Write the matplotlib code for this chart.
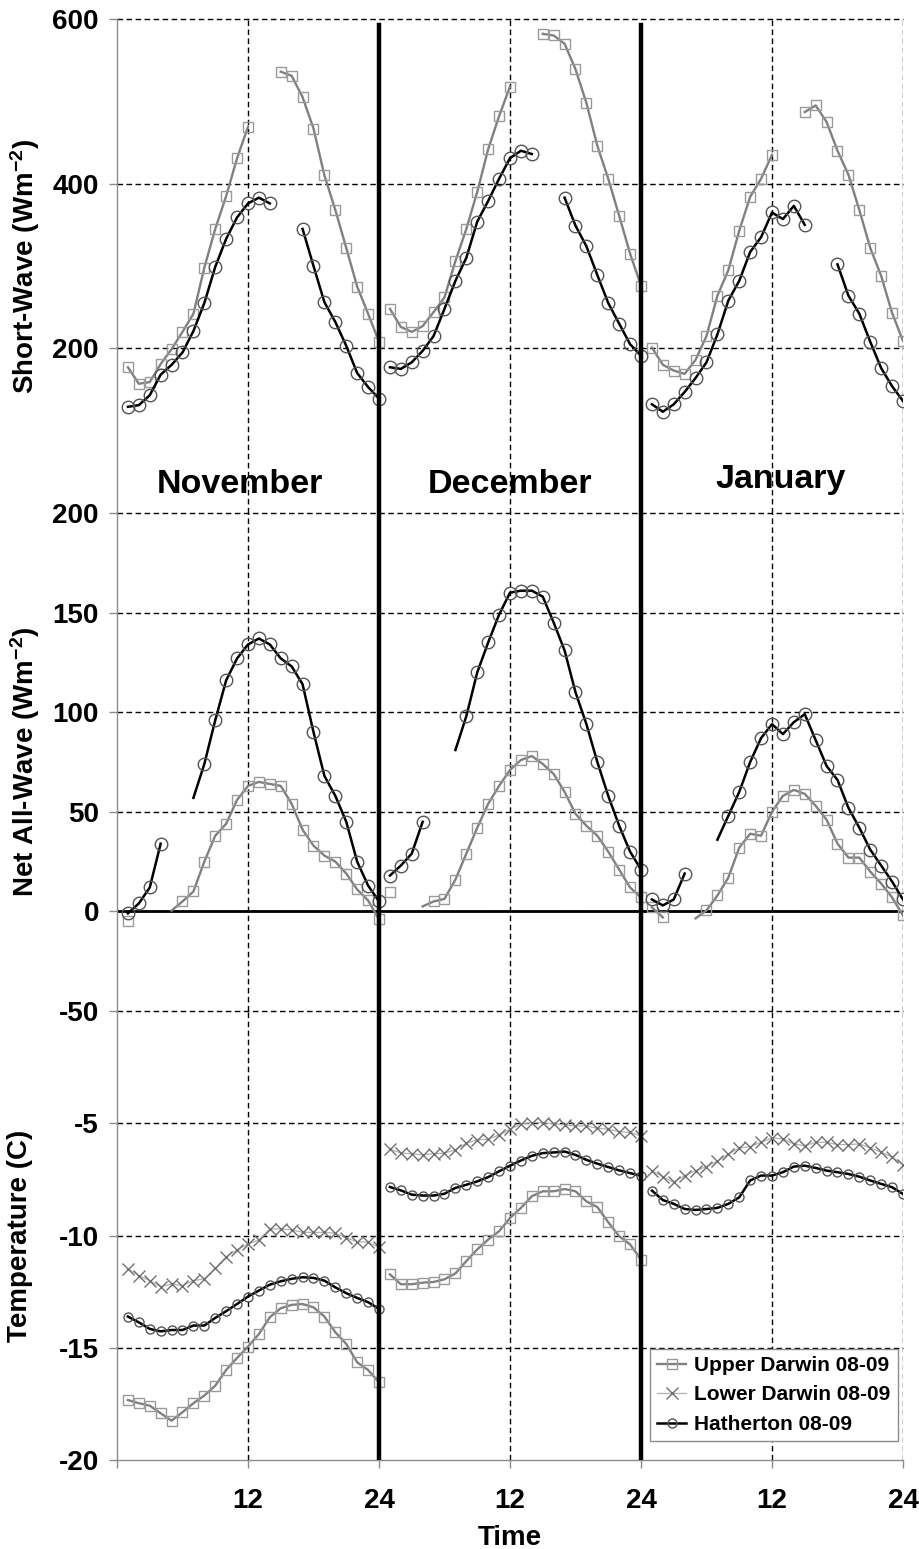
#!/usr/bin/env python3
"""Diurnal short-wave, net all-wave and temperature at three sites, Nov-Jan 08-09."""

import matplotlib

matplotlib.use("Agg")

import matplotlib.pyplot as plt
import numpy as np

nan = np.nan

MONTHS = ["November", "December", "January"]
HOURS = np.arange(1, 25)
SITES = ["Upper Darwin 08-09", "Lower Darwin 08-09", "Hatherton 08-09"]

# Short-wave (W m-2), one list per month
SW_UPPER = [
    [177, 157, 159, 181, 199, 220, 242, 298, 345, 385, 431, 469,
     nan, nan, 536, 531, 505, 467, 410, 368, 322, 275, 242, 208],
    [248, 226, 220, 227, 244, 262, 306, 345, 390, 442, 482, 518,
     nan, nan, 582, 580, 570, 539, 498, 446, 406, 361, 315, 276],
    [201, 180, 173, 169, 186, 215, 264, 295, 343, 384, 406, 435,
     nan, nan, 487, 495, 475, 440, 411, 368, 322, 288, 243, 209],
]
SW_HATH = [
    [129, 131, 143, 168, 180, 195, 221, 255, 299, 333, 359, 376,
     383, 376, nan, nan, 345, 300, 256, 232, 203, 170, 153, 139],
    [177, 175, 183, 197, 215, 248, 282, 310, 354, 379, 406, 431,
     440, 436, nan, nan, 383, 349, 324, 289, 255, 230, 205, 191],
    [132, 123, 132, 147, 164, 183, 217, 258, 282, 317, 335, 365,
     357, 373, 350, nan, nan, 302, 264, 242, 208, 176, 154, 136],
]

# Net all-wave (W m-2)
NET_UPPER = [
    [-5, nan, nan, nan, 0.4, 5, 10, 25, 38, 44, 56, 63,
     65, 64, 63, 54, 41, 33, 28, 25, 19, 11, 5.5, -4],
    [9.5, nan, nan, 2.5, 5, 6.3, 16, 29, 42, 54, 63, 71,
     76, 78, 74, 69, 60, 49, 43, 38, 30, 21, 12, 7],
    [2, -3, nan, nan, -3.5, 0.5, 8, 17, 32, 39, 38, 50,
     58, 61, 59, 53, 46, 34, 27, 27, 20, 14, 7, -2],
]
NET_HATH = [
    [-1, 4, 12, 34, nan, nan, 57, 74, 96, 116, 127, 134,
     137, 134, 127, 123, 114, 90, 68, 58, 45, 25, 13, 5],
    [18, 23, 29, 45, nan, nan, 81, 98, 120, 135, 149, 160,
     161, 161, 158, 145, 131, 110, 94, 75, 58, 43, 30, 21],
    [6, 3, 6, 19, nan, nan, 36, 48, 60, 75, 87, 94,
     89, 95, 99, 86, 73, 66, 52, 42, 31, 23, 15, 6],
]
# first hour of a segment drawn without a marker
NET_UPPER_NOMARK = [5, 4, 5]
NET_HATH_NOMARK = [7, 7, 7]

# Temperature (C)
T_UPPER = [
    [-17.33, -17.47, -17.58, -17.92, -18.25, -17.87, -17.47, -17.13, -16.69, -15.99, -15.45, -14.95,
     -14.39, -13.64, -13.24, -13.09, -13.05, -13.20, -13.61, -14.31, -14.83, -15.65, -15.99, -16.54],
    [-11.73, -12.17, -12.17, -12.10, -12.07, -11.95, -11.69, -11.14, -10.62, -10.18, -9.81, -9.22,
     -8.77, -8.25, -8.03, -8.03, -7.93, -8.03, -8.48, -8.73, -9.41, -10.03, -10.40, -11.07],
    None,
]
T_LOWER = [
    [-11.49, -11.79, -12.01, -12.28, -12.16, -12.23, -12.01, -11.93, -11.46, -10.94, -10.64, -10.38,
     -10.20, -9.71, -9.71, -9.75, -9.86, -9.86, -9.86, -9.90, -10.11, -10.27, -10.30, -10.52],
    [-6.15, -6.33, -6.36, -6.41, -6.36, -6.33, -6.18, -5.89, -5.74, -5.71, -5.52, -5.27,
     -5.03, -4.97, -4.97, -5.03, -5.07, -5.12, -5.12, -5.22, -5.27, -5.37, -5.41, -5.56],
    [-7.11, -7.38, -7.63, -7.33, -7.11, -6.93, -6.69, -6.37, -6.10, -6.04, -5.85, -5.65,
     -5.70, -5.92, -6.00, -5.85, -5.85, -5.95, -5.95, -5.92, -6.10, -6.29, -6.51, -6.84],
]
T_HATH = [
    [-13.61, -13.87, -14.16, -14.27, -14.21, -14.21, -14.01, -14.01, -13.67, -13.37, -13.05, -12.72,
     -12.45, -12.19, -12.04, -11.93, -11.86, -11.89, -12.01, -12.31, -12.57, -12.78, -12.97, -13.27],
    [-7.84, -7.99, -8.18, -8.22, -8.22, -8.14, -7.88, -7.74, -7.59, -7.40, -7.14, -6.89,
     -6.66, -6.45, -6.33, -6.30, -6.26, -6.41, -6.63, -6.80, -6.95, -7.10, -7.22, -7.34],
    [-8.00, -8.42, -8.59, -8.82, -8.86, -8.82, -8.77, -8.59, -8.30, -7.55, -7.33, -7.33,
     -7.18, -6.93, -6.89, -6.99, -7.11, -7.18, -7.26, -7.38, -7.55, -7.70, -7.85, -8.15],
]

plt.rcParams["font.family"] = ["Liberation Sans", "DejaVu Sans"]
plt.rcParams["font.weight"] = "bold"
plt.rcParams["mathtext.fontset"] = "custom"
plt.rcParams["mathtext.rm"] = "Liberation Sans:bold"
plt.rcParams["mathtext.bf"] = "Liberation Sans:bold"
plt.rcParams["mathtext.default"] = "bf"

DASH = (0, (4, 2.5))
GRAY = "#8c8c8c"
TICK_SIZE = 20

STYLE = {
    "upper": dict(color="#808080", lw=1.7, marker="s", mfc="none", mec="#9a9a9a", mew=1.0),
    "lower": dict(color="#b0b0b0", lw=0.9, marker="x", mec="#707070", mew=1.0),
    "hath": dict(color="black", lw=1.8, marker="o", mfc="none", mec="#555555", mew=1.0),
}


def plot_months(ax, series, key, ms, nomark=None, label=None):
    """Plot one site for the three months; returns first line for the legend."""
    first = None
    for i, vals in enumerate(series):
        if vals is None:
            continue
        y = np.array(vals, dtype=float)
        x = HOURS + 24 * i
        every = None
        if nomark is not None:
            every = [h != nomark[i] for h in HOURS]
        (ln,) = ax.plot(x, y, ms=ms, markevery=every, zorder=3 if key != "hath" else 4,
                        label=label if i == 0 else None, **STYLE[key])
        if first is None:
            first = ln
    return first


def style_axes(ax, ylim, yticks, ylabel, labelx):
    ax.set_xlim(0, 72)
    ax.set_ylim(*ylim)
    ax.set_yticks(yticks)
    ax.set_yticklabels([str(t) for t in yticks])
    ax.patch.set_visible(False)
    for s in ("top", "right", "bottom"):
        ax.spines[s].set_visible(False)
    ax.spines["left"].set_color(GRAY)
    ax.spines["left"].set_linewidth(1.0)
    ax.tick_params(axis="y", direction="out", length=6, width=1, color=GRAY,
                   labelsize=TICK_SIZE, pad=7)
    ax.tick_params(axis="x", bottom=False, labelbottom=False)
    for t in yticks:
        if t > ylim[0] or ax.get_label() != "temp":
            ax.axhline(t, color="black", lw=1.0, ls=DASH, zorder=1, clip_on=False)
    for h in (12, 36, 60, 72):
        ax.axvline(h, color="black", lw=1.0, ls=DASH, zorder=1)
    ax.set_ylabel(ylabel, fontsize=20, fontweight="bold")
    ax.yaxis.set_label_coords(labelx, 0.5)


fig = plt.figure(figsize=(9.2, 15.49), dpi=100)
left, width = 117 / 920, 786 / 920
ax_sw = fig.add_axes([left, 1 - 513 / 1549, width, 494 / 1549], label="sw")
ax_net = fig.add_axes([left, 1 - 1011 / 1549, width, 498 / 1549], label="net")
ax_t = fig.add_axes([left, 1 - 1460 / 1549, width, 449 / 1549], label="temp")

# short-wave
style_axes(ax_sw, (0, 600), [200, 400, 600], "Short-Wave (Wm$^{-2}$)", -0.095)
plot_months(ax_sw, SW_UPPER, "upper", 7)
plot_months(ax_sw, SW_HATH, "hath", 9)
for name, x, y in zip(MONTHS, [11.3, 36.0, 60.8], [35, 35, 41]):
    ax_sw.text(x, y, name, ha="center", va="center", fontsize=24.5, fontweight="bold")

# net all-wave
style_axes(ax_net, (-50, 200), [-50, 0, 50, 100, 150, 200], "Net All-Wave (Wm$^{-2}$)", -0.095)
ax_net.axhline(0, color="black", lw=2.0, zorder=2)
plot_months(ax_net, NET_UPPER, "upper", 7, NET_UPPER_NOMARK)
plot_months(ax_net, NET_HATH, "hath", 9, NET_HATH_NOMARK)

# temperature
style_axes(ax_t, (-20, 0), [-20, -15, -10, -5], "Temperature (C)", -0.107)
ax_t.spines["bottom"].set_visible(True)
ax_t.spines["bottom"].set_color(GRAY)
ax_t.spines["bottom"].set_linewidth(1.0)
h_up = plot_months(ax_t, T_UPPER, "upper", 6.5, label=SITES[0])
h_lo = plot_months(ax_t, T_LOWER, "lower", 8, label=SITES[1])
h_ha = plot_months(ax_t, T_HATH, "hath", 6.5, label=SITES[2])
ax_t.set_xticks([0, 12, 24, 36, 48, 60, 72])
ax_t.set_xticklabels(["", "12", "24", "12", "24", "12", "24"])
ax_t.tick_params(axis="x", bottom=True, labelbottom=True, direction="out", length=6,
                 width=1, color=GRAY, labelsize=TICK_SIZE, pad=14)
ax_t.set_xlabel("Time", fontsize=20, fontweight="bold", labelpad=8)

# month separators
for ax in (ax_sw, ax_net, ax_t):
    top = 0.988 if ax is ax_sw else 1.0
    for h in (24, 48):
        ax.axvline(h, ymax=top, color="black", lw=3.2, zorder=5)

leg = ax_t.legend(handles=[h_up, h_lo, h_ha], loc="lower right",
                  bbox_to_anchor=(0.9936, 0.042), borderaxespad=0, frameon=True,
                  fancybox=False, edgecolor=GRAY, framealpha=1,
                  prop={"size": 15, "weight": "bold"}, handlelength=1.4,
                  handletextpad=0.4, labelspacing=0.5, borderpad=0.35)
leg.get_frame().set_linewidth(1.0)
leg.set_zorder(6)

fig.savefig("out.png", dpi=100)
